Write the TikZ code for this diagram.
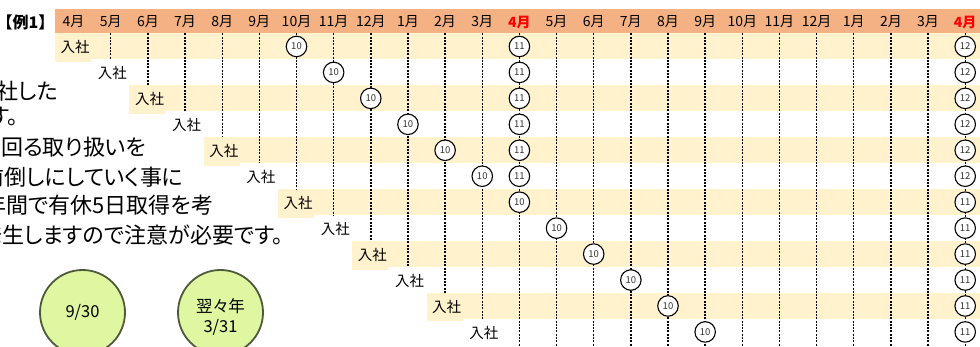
\documentclass[tikz,border=0pt]{standalone}
\usepackage{fontspec}
\setmainfont{Noto Sans CJK JP}[RawFeature={+palt}]
\newfontfamily\titlefont{Noto Sans CJK JP}
\definecolor{hdr}{HTML}{F4B183}
\definecolor{stripe}{HTML}{FFF2CC}
\definecolor{lime}{RGB}{222,247,160}
\definecolor{limeedge}{RGB}{78,88,58}
\definecolor{numgray}{HTML}{333333}
\begin{document}
\begin{tikzpicture}[x=1pt,y=-1pt,
  month/.style={font=\fontsize{14}{14}\selectfont, inner sep=0pt},
  redmonth/.style={inner sep=0pt, text=red, font=\fontsize{14}{14}\selectfont\bfseries},
  entry/.style={font=\fontsize{14.5}{14.5}\selectfont, inner sep=0pt, anchor=west},
  numc/.style={circle, draw=black, line width=1.1pt, fill=white, minimum size=20.5pt, inner sep=0pt, font=\fontsize{9.5}{9.5}\selectfont, text=numgray},
  vline/.style={draw=black, line width=1.4pt, dash pattern=on 2pt off 1.3pt},
  para/.style={font=\fontsize{22}{22}\selectfont, inner sep=0pt, anchor=west},
  bigc/.style={circle, draw=limeedge, line width=1.8pt, fill=lime, minimum size=85pt, inner sep=0pt},
  bigtxt/.style={font=\fontsize{16.5}{20}\selectfont, align=center, inner sep=0pt}
]
\useasboundingbox (0,0) rectangle (980,347);
\clip (0,0) rectangle (980,347);
% header bar
\fill[hdr] (55,9) rectangle (980,33.5);
% stripes
\foreach \i in {1,3,...,11} {
  \pgfmathsetmacro\xl{55+37.15*(\i-1)}
  \pgfmathsetmacro\yt{33.5+25.95*(\i-1)}
  \fill[stripe] (\xl,\yt) rectangle (980,\yt+25.95);
  \fill[stripe] (\xl,\yt) rectangle (\xl+36,\yt+28.5);
}
% title
\node[font=\titlefont\fontsize{16}{16}\selectfont\bfseries, inner sep=0pt, anchor=west] (title) at (0.5,22) {\kern-4pt【例1】\kern-5pt};
% month labels
\foreach \k in {0,...,24} {
  \pgfmathsetmacro\xc{73.6+37.15*\k}
  \pgfmathtruncatemacro\mn{mod(\k+3,12)+1}
  \ifnum\k=12
    \node[redmonth] (m\k) at (\xc,22) {\mn{}月};
  \else\ifnum\k=24
    \node[redmonth] (m\k) at (\xc,22) {\mn{}月};
  \else
    \node[month] (m\k) at (\xc,22) {\mn{}月};
  \fi\fi
}
% vertical dashed lines
\foreach \k in {1,...,11} {
  \pgfmathsetmacro\xc{73.6+37.15*\k}
  \coordinate (lt\k) at (\xc,33.5);
  \coordinate (lb\k) at (\xc,33.5+25.95*\k);
  \draw[vline] (lt\k) -- (lb\k);
}
\foreach \k in {12,...,24} {
  \pgfmathsetmacro\xc{73.6+37.15*\k}
  \coordinate (lt\k) at (\xc,33.5);
  \coordinate (lb\k) at (\xc,350);
  \draw[vline] (lt\k) -- (lb\k);
}
% entry labels
\foreach \i in {1,...,12} {
  \pgfmathsetmacro\xl{55+37.15*(\i-1)+5.5}
  \pgfmathsetmacro\yc{33.5+25.95*(\i-0.5)+1}
  \node[entry] (e\i) at (\xl,\yc) {入社};
}
% numbered circles
\foreach \i in {1,...,12} {
  \pgfmathsetmacro\yc{33.5+25.95*(\i-0.5)}
  \pgfmathsetmacro\xa{73.6+37.15*(\i+5)}
  \node[numc] (a\i) at (\xa,\yc) {10};
  \pgfmathsetmacro\xe{73.6+37.15*24}
  \pgfmathtruncatemacro\nz{ifthenelse(\i<7,12,11)}
  \node[numc] (z\i) at (\xe,\yc) {\nz};
}
\foreach \i in {1,...,6} {
  \pgfmathsetmacro\yc{33.5+25.95*(\i-0.5)}
  \pgfmathsetmacro\xb{73.6+37.15*12}
  \node[numc] (b\i) at (\xb,\yc) {11};
}
% paragraph (clipped at left edge)
\node[para] (p1) at (-3.5,91) {社した};
\node[para] (p2) at (-11,116) {す。};
\node[para] (p3) at (1,147) {回る取り扱いを};
\node[para] (p4) at (-18,177.5) {前倒しにしていく事に};
\node[para] (p5) at (-16,205.5) {年間で有休5日取得を考};
\node[para] (p6) at (-20,235.5) {発生しますので注意が必要です。};
% green circles
\node[bigc] (g1) at (82.5,312.5) {};
\node[bigtxt] (g1t) at (82.5,312.5) {9/30};
\node[bigc] (g2) at (220.5,312.5) {};
\node[bigtxt] (g2t) at (220.5,317) {翌々年\\3/31};
\end{tikzpicture}
\end{document}
